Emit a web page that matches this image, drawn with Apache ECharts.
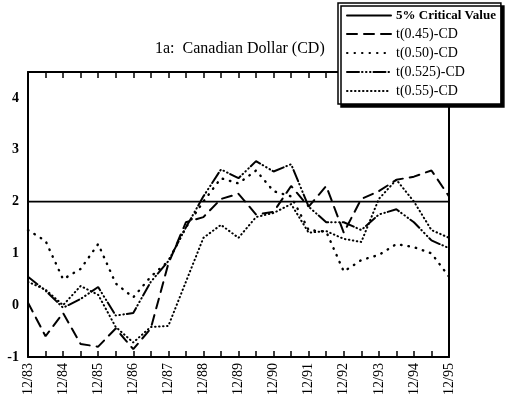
<!DOCTYPE html>
<html>
<head>
    <meta charset="utf-8">
    <title>1a: Canadian Dollar (CD)</title>
    <script src="https://cdn.jsdelivr.net/npm/echarts@6/dist/echarts.min.js"></script>
</head>
<body style="margin: 0; background: #fff">
    <div id="chart" style="width: 509px; height: 408px;"></div>

    <script type="text/javascript">
    // half-year dates, 12/83 .. 12/95
    var dates = ['12/83','6/84','12/84','6/85','12/85','6/86','12/86','6/87','12/87','6/88',
                 '12/88','6/89','12/89','6/90','12/90','6/91','12/91','6/92','12/92','6/93',
                 '12/93','6/94','12/94','6/95','12/95'];

    var critical = [2, 2, 2, 2, 2, 2, 2, 2, 2, 2, 2, 2, 2, 2, 2, 2, 2, 2, 2, 2, 2, 2, 2, 2, 2];
    var t045  = [0.05, -0.6, -0.15, -0.75, -0.8, -0.45, -0.85, -0.45, 0.8, 1.6, 1.7, 2.05, 2.15,
                 1.75, 1.8, 2.3, 1.9, 2.3, 1.4, 2.05, 2.2, 2.42, 2.48, 2.6, 2.1];
    var t050  = [1.45, 1.24, 0.5, 0.7, 1.18, 0.42, 0.15, 0.55, 0.85, 1.5, 2.0, 2.45, 2.35,
                 2.6, 2.2, 2.1, 1.45, 1.42, 0.65, 0.87, 0.97, 1.18, 1.12, 1.0, 0.55];
    var t0525 = [0.55, 0.28, -0.05, 0.12, 0.35, -0.2, -0.15, 0.45, 0.85, 1.5, 2.1, 2.62, 2.45,
                 2.78, 2.58, 2.72, 1.9, 1.6, 1.6, 1.45, 1.75, 1.85, 1.6, 1.25, 1.1];
    var t055  = [0.45, 0.3, 0.0, 0.37, 0.2, -0.42, -0.72, -0.42, -0.4, 0.45, 1.3, 1.55, 1.3,
                 1.7, 1.78, 1.95, 1.4, 1.43, 1.28, 1.22, 2.05, 2.42, 2.0, 1.45, 1.3];

    var serif = 'Liberation Serif';

    function line(name, data, dash, width) {
        return {
            name: name,
            type: 'line',
            data: data,
            symbol: 'none',
            lineStyle: { color: '#000', width: width, type: dash, cap: 'round' },
            itemStyle: { color: '#000' }
        };
    }

    function yAx(pos, labels) {
        return {
            type: 'value',
            position: pos,
            min: -1,
            max: 4.5,
            interval: 0.2,
            splitLine: { show: false },
            axisLine: { show: true, onZero: false, lineStyle: { color: '#000', width: 2 } },
            axisTick: { inside: true, length: 5, lineStyle: { color: '#000', width: 1.5 } },
            axisLabel: {
                show: labels,
                showMaxLabel: false,
                margin: 9,
                color: '#000',
                fontFamily: serif,
                fontSize: 14,
                fontWeight: 'bold',
                formatter: function (v) {
                    return Math.abs(v - Math.round(v)) < 1e-6 ? String(Math.round(v)) : '';
                }
            }
        };
    }

    function xAx(pos, labels) {
        return {
            type: 'category',
            position: pos,
            data: dates,
            boundaryGap: false,
            axisLine: { show: true, onZero: false, lineStyle: { color: '#000', width: 2 } },
            axisTick: { inside: true, interval: 0, length: 6, lineStyle: { color: '#000', width: 1.5 } },
            axisLabel: {
                show: labels,
                interval: 1,
                rotate: 90,
                margin: 6,
                color: '#000',
                fontFamily: serif,
                fontSize: 14
            }
        };
    }

    var option = {
        backgroundColor: '#fff',
        animation: false,
        title: {
            text: '1a:  Canadian Dollar (CD)',
            left: 150,
            top: 36,
            textStyle: { fontFamily: serif, fontSize: 16, fontWeight: 'normal', color: '#000' }
        },
        legend: {
            orient: 'vertical',
            left: 338,
            top: 3,
            padding: [6, 5, 6, 8],
            itemWidth: 44,
            itemHeight: 14,
            itemGap: 5,
            backgroundColor: '#fff',
            borderColor: '#000',
            borderWidth: 1.5,
            shadowColor: '#000',
            shadowBlur: 0,
            shadowOffsetX: 3,
            shadowOffsetY: 3,
            itemStyle: { opacity: 0 },
            textStyle: { fontFamily: serif, fontSize: 14, color: '#000' },
            data: [
                { name: '5% Critical Value', textStyle: { fontWeight: 'bold', fontSize: 13 } },
                't(0.45)-CD', 't(0.50)-CD', 't(0.525)-CD', 't(0.55)-CD'
            ]
        },
        grid: { left: 28, right: 60, top: 72, bottom: 51 },
        xAxis: [xAx('bottom', true), xAx('top', false)],
        yAxis: [yAx('left', true), yAx('right', false)],
        series: [
            line('5% Critical Value', critical, 'solid', 1.8),
            line('t(0.45)-CD', t045, [10, 7], 2),
            line('t(0.50)-CD', t050, [0.5, 7], 2.4),
            line('t(0.525)-CD', t0525, [12, 3, 0.5, 3.5, 0.5, 3.5, 0.5, 3], 2),
            line('t(0.55)-CD', t055, [0.5, 3.5], 2)
        ]
    };

    var myChart = echarts.init(document.getElementById('chart'));
    myChart.setOption(option);
    </script>
</body>
</html>
